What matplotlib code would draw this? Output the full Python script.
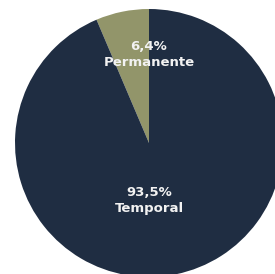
import matplotlib.pyplot as plt

# Datos
categorias = ['Temporal', 'Permanente']
valores = [93.5, 6.4]
colores = ['#1f2d42', '#92956a']
etiquetas = ['93,5%', '6,4%']

fig = plt.figure(figsize=(2.75, 2.74), dpi=100)
ax = fig.add_axes([0, 0, 1, 1])

# Permanente empieza en las 12 y va en sentido antihorario
ax.pie(valores[::-1], colors=colores[::-1], startangle=90, counterclock=True,
       radius=1, wedgeprops=dict(linewidth=0))

# posiciones de texto (como en la imagen, centradas en x)
pos_y = {'Temporal': -0.43, 'Permanente': 0.66}
for cat, et in zip(categorias, etiquetas):
    ax.text(0, pos_y[cat], et + '\n' + cat, ha='center', va='center',
            color='#f2f2f2', fontsize=9.5, fontweight='bold', linespacing=1.35)

ax.set_aspect('equal')
ax.set_xlim(-149/134, (275-149)/134)
ax.set_ylim(-131/134, 143/134)
ax.axis('off')

fig.savefig('out.png', dpi=100)
